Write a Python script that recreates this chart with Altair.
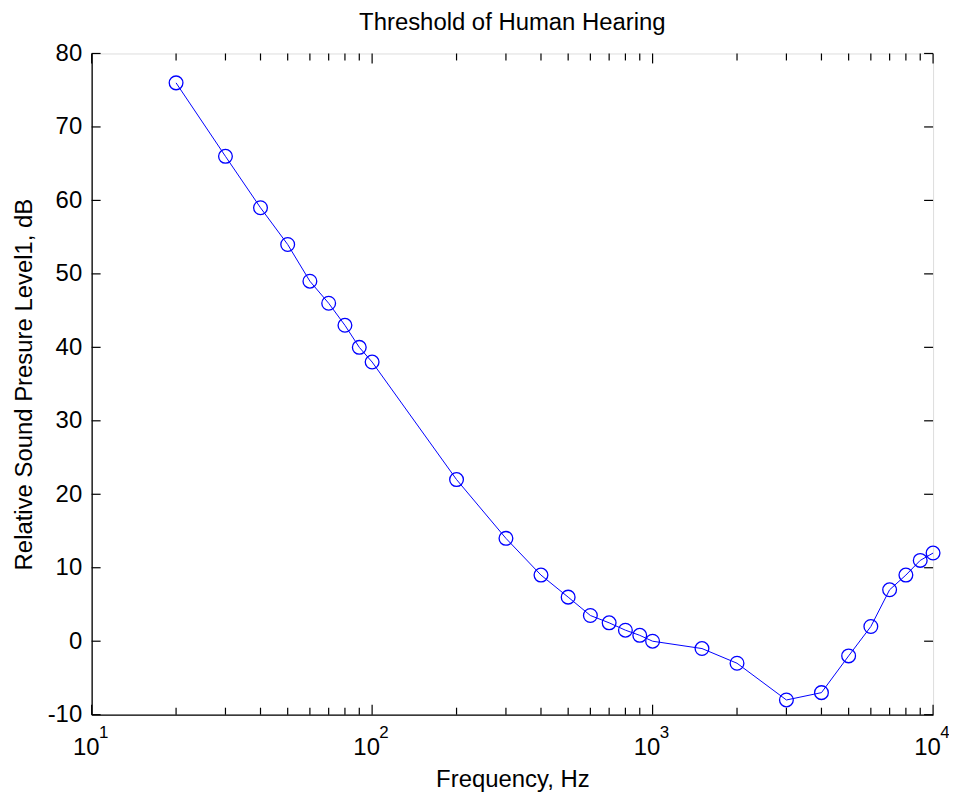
import altair as alt
import pandas as pd

# Data
freq = [20, 30, 40, 50, 60, 70, 80, 90, 100, 200, 300, 400, 500, 600, 700, 800, 900,
        1000, 1500, 2000, 3000, 4000, 5000, 6000, 7000, 8000, 9000, 10000]
spl = [76, 66, 59, 54, 49, 46, 43, 40, 38, 22, 14, 9, 6, 3.5, 2.5, 1.5, 0.8,
       0, -1, -3, -8, -7, -2, 2, 7, 9, 11, 12]

x_major = [10, 100, 1000, 10000]
x_exponents = ["1", "2", "3", "4"]
x_minor = [20, 30, 40, 50, 60, 70, 80, 90,
           200, 300, 400, 500, 600, 700, 800, 900,
           2000, 3000, 4000, 5000, 6000, 7000, 8000, 9000]
y_ticks = [-10, 0, 10, 20, 30, 40, 50, 60, 70, 80]

W, H = 845, 664
FONT = "Liberation Sans"
BLUE = "#0000FF"

df = pd.DataFrame({"f": freq, "db": spl})
dmaj = pd.DataFrame({"f": x_major, "e": x_exponents})
dmin = pd.DataFrame({"f": x_minor})
dy = pd.DataFrame({"v": y_ticks})

xscale = alt.Scale(type="log", domain=[10, 10000], nice=False)
yscale = alt.Scale(domain=[-10, 80], nice=False, zero=False)

xaxis = alt.Axis(values=x_major, labelExpr="'10'", ticks=False, grid=False,
                 labelFontSize=24, labelFont=FONT, labelColor="black",
                 labelPadding=21, labelOffset=-6, labelFlush=False,
                 domainColor="black", domainWidth=1.3, title="Frequency, Hz",
                 titleFontSize=24, titleFont=FONT, titleFontWeight="normal",
                 titleColor="black", titleY=72, titleBaseline="alphabetic")
yaxis = alt.Axis(values=y_ticks, ticks=False, grid=False,
                 labelExpr="datum.value < 0 ? '-' + abs(datum.value) : '' + datum.value",
                 labelFontSize=24, labelFont=FONT, labelColor="black",
                 labelPadding=10, labelFlush=False, domainColor="black",
                 domainWidth=1.3,
                 title="Relative Sound Presure Level1, dB",
                 titleFontSize=24, titleFont=FONT, titleFontWeight="normal",
                 titleColor="black", titleX=-67, titleY=H / 2,
                 titleBaseline="middle", titleAngle=-90)

line = alt.Chart(df).mark_line(color=BLUE, strokeWidth=1).encode(
    x=alt.X("f:Q", scale=xscale, axis=xaxis),
    y=alt.Y("db:Q", scale=yscale, axis=yaxis),
)
pts = alt.Chart(df).mark_point(shape="circle", filled=False, color=BLUE,
                               size=190, strokeWidth=1.3, opacity=1).encode(
    x=alt.X("f:Q", scale=xscale),
    y=alt.Y("db:Q", scale=yscale),
)

# inward ticks on all four sides
def xticks(data, length):
    b = alt.Chart(data).mark_rule(color="black", strokeWidth=1.2).encode(
        x=alt.X("f:Q", scale=xscale), y=alt.value(H), y2=alt.value(H - length))
    t = alt.Chart(data).mark_rule(color="black", strokeWidth=1.2).encode(
        x=alt.X("f:Q", scale=xscale), y=alt.value(0), y2=alt.value(length))
    return b + t

yl = alt.Chart(dy).mark_rule(color="black", strokeWidth=1.2).encode(
    y=alt.Y("v:Q", scale=yscale), x=alt.value(0), x2=alt.value(9))
yr = alt.Chart(dy).mark_rule(color="black", strokeWidth=1.2).encode(
    y=alt.Y("v:Q", scale=yscale), x=alt.value(W), x2=alt.value(W - 9))

expo = alt.Chart(dmaj).mark_text(fontSize=17, font=FONT, color="black",
                                 align="center", baseline="middle",
                                 dx=12, dy=18).encode(
    x=alt.X("f:Q", scale=xscale), y=alt.value(H), text="e:N")

chart = alt.layer(
    xticks(dmin, 7), xticks(dmaj, 10), yl, yr, line, pts, expo
).properties(
    width=W, height=H,
    title=alt.Title("Threshold of Human Hearing", fontSize=24, font=FONT,
                    fontWeight="normal", color="black", offset=7, anchor="middle"),
    autosize=alt.AutoSizeParams(type="none"),
    padding={"left": 84, "top": 44, "right": 16, "bottom": 80},
).configure_view(stroke="black", strokeWidth=1.3).configure(background="white")

chart.save("out.html", embed_options={"renderer": "svg", "actions": False})
